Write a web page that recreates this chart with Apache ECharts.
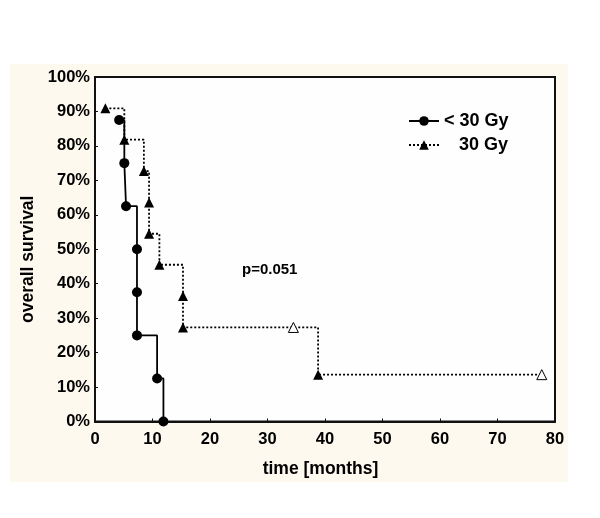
<!DOCTYPE html>
<html>
<head>
<meta charset="utf-8">
<script src="https://cdn.jsdelivr.net/npm/echarts@6/dist/echarts.min.js"></script>
<style>
html,body{margin:0;padding:0;background:#fff;}
#chart{width:600px;height:518px;}
</style>
</head>
<body>
<div id="chart"></div>
<script>
// ---- data ----
var lowName = '< 30 Gy';
var highName = '   30 Gy';
var lowMonths = [4.2, 5.1, 5.4, 7.3, 7.3, 7.3, 10.8, 11.9];
var lowSurvival = [0.875, 0.75, 0.625, 0.5, 0.375, 0.25, 0.125, 0];
var highMonths = [1.8, 5.1, 8.5, 9.4, 9.4, 11.2, 15.3, 15.3, 34.5, 38.8, 77.7];
var highSurvival = [0.909, 0.818, 0.727, 0.636, 0.545, 0.455, 0.364, 0.273, 0.273, 0.136, 0.136];
var highCensored = [0, 0, 0, 0, 0, 0, 0, 0, 1, 0, 1];
var xTickLabels = ['0', '10', '20', '30', '40', '50', '60', '70', '80'];
var yTickLabels = ['0%', '10%', '20%', '30%', '40%', '50%', '60%', '70%', '80%', '90%', '100%'];
var pText = 'p=0.051';

// ---- build ----
var FONT = '"Liberation Sans", Arial, sans-serif';
var lowData = lowMonths.map(function (t, i) { return [t, lowSurvival[i]]; });
var highData = highMonths.map(function (t, i) {
  var d = { value: [t, highSurvival[i]] };
  if (highCensored[i]) d.itemStyle = { color: '#ffffff', borderColor: '#000', borderWidth: 1 };
  return d;
});

var chart = echarts.init(document.getElementById('chart'), null, { renderer: 'canvas' });
chart.setOption({
  animation: false,
  backgroundColor: '#ffffff',
  graphic: [
    { type: 'rect', z: -100, shape: { x: 10, y: 64, width: 558, height: 418 }, style: { fill: '#FDF9EE' } },
    { type: 'text', left: 242, top: 262, z: 10, style: { text: pText, font: 'bold 15px ' + FONT, fill: '#000' } }
  ],
  grid: {
    left: 95, right: 45, top: 77, bottom: 96.5,
    show: true, backgroundColor: '#fefefe', borderColor: '#111', borderWidth: 2
  },
  legend: {
    left: 408, top: 112, padding: 0, orient: 'vertical', itemWidth: 30, itemHeight: 12, itemGap: 6,
    textStyle: { fontFamily: FONT, fontWeight: 'bold', fontSize: 18, color: '#000' },
    data: [lowName, highName]
  },
  xAxis: {
    type: 'value', min: 0, max: 80, interval: 10,
    name: 'time [months]', nameLocation: 'middle', nameGap: 39,
    nameTextStyle: { fontFamily: FONT, fontWeight: 'bold', fontSize: 17.5, color: '#000', padding: [0, 9, 0, 0] },
    axisLine: { show: true, lineStyle: { color: '#111', width: 2 } },
    axisTick: { show: true, inside: true, length: 3, lineStyle: { color: '#111' } },
    axisLabel: { margin: 9, fontFamily: FONT, fontWeight: 'bold', fontSize: 16.5, color: '#000',
      formatter: function (v, i) { return xTickLabels[i]; } },
    splitLine: { show: false }
  },
  yAxis: {
    type: 'value', min: 0, max: 1, interval: 0.1,
    name: 'overall survival', nameLocation: 'middle', nameGap: 58, nameRotate: 90,
    nameTextStyle: { fontFamily: FONT, fontWeight: 'bold', fontSize: 17.5, color: '#000', padding: [0, 20, 0, 0] },
    axisLine: { show: true, lineStyle: { color: '#111', width: 2 } },
    axisTick: { show: true, inside: true, length: 3, lineStyle: { color: '#111' } },
    axisLabel: { margin: 5, fontFamily: FONT, fontWeight: 'bold', fontSize: 16.5, color: '#000',
      formatter: function (v, i) { return yTickLabels[i]; } },
    splitLine: { show: false }
  },
  series: [
    {
      name: lowName, type: 'line', step: 'end', data: lowData,
      symbol: 'circle', symbolSize: 10, showAllSymbol: true,
      lineStyle: { color: '#000', width: 1.8, type: 'solid' },
      itemStyle: { color: '#000' }, z: 3
    },
    {
      name: highName, type: 'line', step: 'end', data: highData,
      symbol: 'triangle', symbolSize: 10, showAllSymbol: true,
      lineStyle: { color: '#000', width: 1.8, type: [2, 2] },
      itemStyle: { color: '#000' }, z: 3
    }
  ]
});
</script>
</body>
</html>
